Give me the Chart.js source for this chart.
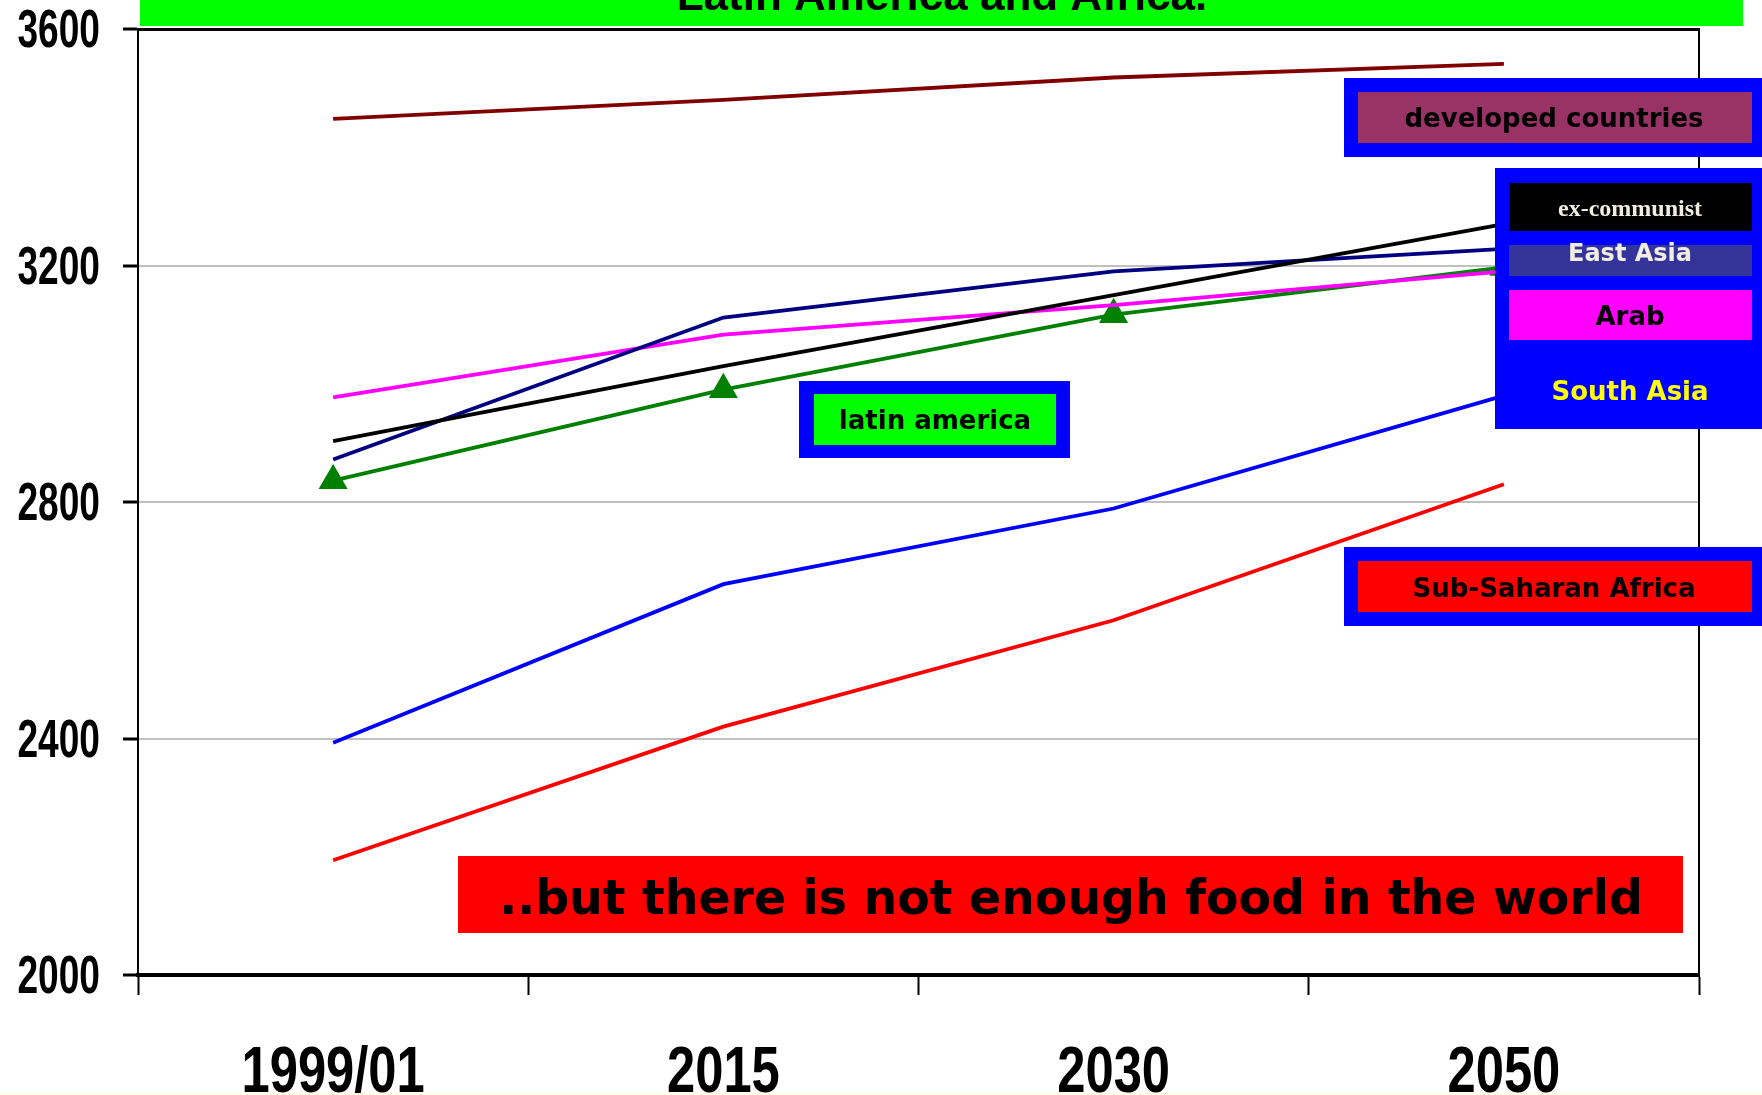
<!DOCTYPE html>
<html>
<head>
<meta charset="utf-8">
<script src="https://cdn.jsdelivr.net/npm/chart.js@4.4.0/dist/chart.umd.min.js"></script>
<style>
  html, body { margin: 0; padding: 0; background: #fff; }
  #wrap { width: 1762px; height: 1095px; }
</style>
</head>
<body>
<div id="wrap"><canvas id="graphe" width="1762" height="1095"></canvas></div>
<script>
// categories + series (kcal/person/day)
const labels = ["1999/01", "2015", "2030", "2050"];
const developed = [3448, 3480, 3518, 3541];
const exCommunist = [2903, 3030, 3150, 3270];
const eastAsia = [2872, 3112, 3190, 3228];
const arab = [2977, 3083, 3133, 3190];
const latinAmerica = [2836, 2990, 3117, 3197];
const southAsia = [2393, 2661, 2789, 2980];
const subSaharan = [2194, 2420, 2600, 2830];
const yTicks = [2000, 2400, 2800, 3200, 3600];

function serie(label, data, color) {
    return {
        label: label,
        data: data,
        borderColor: color,
        backgroundColor: color,
        borderWidth: 3.8,
        tension: 0,
        pointRadius: 0,
        fill: false
    };
}

const green = serie("latin america", latinAmerica, "#008000");
green.pointStyle = "triangle";
green.pointRadius = 13;
green.pointBackgroundColor = "#008000";
green.pointBorderColor = "#008000";

function box(ctx, x, y, w, h, col) {
    ctx.fillStyle = col;
    ctx.fillRect(x, y, w, h);
}
function txt(ctx, s, x, y, font, col) {
    ctx.font = font;
    ctx.fillStyle = col;
    ctx.textAlign = "center";
    ctx.textBaseline = "alphabetic";
    ctx.fillText(s, x, y);
}
// squeezed text, the axis labels are a narrow face
function narrow(ctx, s, x, y, font, sx, align) {
    ctx.save();
    ctx.translate(x, y);
    ctx.scale(sx, 1);
    ctx.font = font;
    ctx.fillStyle = "#000";
    ctx.textAlign = align;
    ctx.textBaseline = "alphabetic";
    ctx.fillText(s, 0, 0);
    ctx.restore();
}

const axisText = {
    id: "axisText",
    afterDraw(chart) {
        const ctx = chart.ctx;
        const sy = chart.scales.y, sxs = chart.scales.x;
        yTicks.forEach(v => {
            narrow(ctx, String(v), 100, sy.getPixelForValue(v) + 18,
                "bold 53px 'Liberation Sans', Arial, sans-serif", 0.7, "right");
        });
        labels.forEach((l, i) => {
            narrow(ctx, l, sxs.getPixelForTick(i), 1092,
                "bold 65px 'Liberation Sans', Arial, sans-serif", 0.78, "center");
        });
    }
};

const decor = {
    id: "decor",
    afterDraw(chart) {
        const ctx = chart.ctx;
        const a = chart.chartArea;
        const sans = "'DejaVu Sans', Verdana, sans-serif";
        ctx.save();
        // top + right frame
        ctx.fillStyle = "#000";
        ctx.fillRect(a.left, a.top - 1, a.right - a.left + 1, 3);
        ctx.fillRect(a.right - 1, a.top, 2, a.bottom - a.top);

        // title banner (cut off at the top)
        box(ctx, 140, 0, 1603, 26, "#00ff00");
        txt(ctx, "Latin America and Africa.", 942, 10, "bold 44px 'Liberation Sans', Arial, sans-serif", "#000");

        // developed countries
        box(ctx, 1344, 78, 418, 79, "#0000ff");
        box(ctx, 1358, 92, 394, 51, "#993366");
        txt(ctx, "developed countries", 1554, 127, "bold 26px " + sans, "#000");

        // big stacked legend box
        box(ctx, 1495, 168, 267, 261, "#0000ff");
        box(ctx, 1509, 183, 243, 48, "#000000");
        txt(ctx, "ex-communist", 1630, 216, "bold 24px 'Liberation Serif', 'Times New Roman', serif", "#f0eee0");
        box(ctx, 1509, 245, 243, 31, "#333399");
        txt(ctx, "East Asia", 1630, 261, "bold 24px " + sans, "#f0eee0");
        box(ctx, 1509, 290, 243, 50, "#ff00ff");
        txt(ctx, "Arab", 1630, 325, "bold 26px " + sans, "#000");
        txt(ctx, "South Asia", 1630, 400, "bold 26px " + sans, "#ffff00");

        // latin america
        box(ctx, 799, 381, 271, 77, "#0000ff");
        box(ctx, 814, 394, 242, 51, "#00ff00");
        txt(ctx, "latin america", 935, 429, "bold 26px " + sans, "#000");

        // sub-saharan africa
        box(ctx, 1344, 547, 418, 79, "#0000ff");
        box(ctx, 1358, 561, 394, 51, "#ff0000");
        txt(ctx, "Sub-Saharan Africa", 1554, 597, "bold 26px " + sans, "#000");

        // bottom message
        box(ctx, 458, 856, 1225, 77, "#ff0000");
        txt(ctx, "..but there is not enough food in the world", 1071, 914, "bold 47.4px " + sans, "#000");

        // faint yellow strip at the very bottom
        box(ctx, 0, 1093, 1762, 2, "#fdfde0");
        ctx.restore();
    }
};

const ctx = document.getElementById("graphe");
const chart = new Chart(ctx, {
    type: "line",
    data: {
        labels: labels,
        datasets: [
            serie("developed countries", developed, "#800000"),
            serie("ex-communist", exCommunist, "#000000"),
            serie("East Asia", eastAsia, "#000080"),
            serie("Arab", arab, "#ff00ff"),
            green,
            serie("South Asia", southAsia, "#0000ff"),
            serie("Sub-Saharan Africa", subSaharan, "#ff0000")
        ]
    },
    options: {
        responsive: false,
        animation: false,
        layout: { padding: { top: 29, right: 63, left: 0, bottom: 0 } },
        plugins: {
            legend: { display: false },
            title: { display: false },
            tooltip: { enabled: false }
        },
        scales: {
            x: {
                offset: true,
                grid: {
                    offset: true,
                    drawOnChartArea: false,
                    drawTicks: true,
                    tickLength: 20,
                    tickColor: "#000",
                    tickWidth: 2
                },
                border: { display: true, color: "#000", width: 4 },
                ticks: { display: false },
                afterFit: function (s) { s.height = 120; }
            },
            y: {
                min: 2000,
                max: 3600,
                afterBuildTicks: function (s) { s.ticks = yTicks.map(v => ({ value: v })); },
                grid: {
                    color: function (c) {
                        const v = c.tick ? c.tick.value : 0;
                        return (v === 2000 || v === 3600) ? "rgba(0,0,0,0)" : "#c0c0c0";
                    },
                    lineWidth: 2,
                    drawTicks: true,
                    tickLength: 15,
                    tickColor: "#000",
                    tickWidth: 3
                },
                border: { display: true, color: "#000", width: 2 },
                ticks: { display: false },
                afterFit: function (s) { s.width = 138; }
            }
        }
    },
    plugins: [axisText, decor]
});
</script>
</body>
</html>
